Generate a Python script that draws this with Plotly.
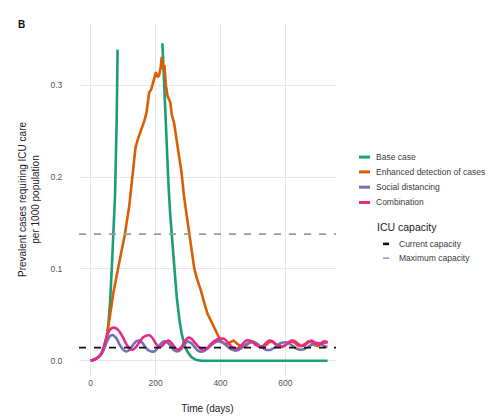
import plotly.graph_objects as go

# ---------------- data ----------------
scenario_names = ["Base case", "Enhanced detection of cases", "Social distancing", "Combination"]
capacity_names = ["Current capacity", "Maximum capacity"]
capacity_values = [0.0142, 0.138]

# Base case: values above the plotted range are missing (None)
base_days = [0, 10, 20, 30, 40, 50, 55, 60, 65, 70, 75, 80, 83,
             150,
             221, 225, 230, 235, 240, 245, 250, 257, 265, 273, 280, 290, 298, 310, 324, 340,
             360, 400, 450, 500, 550, 600, 650, 700, 730]
base_vals = [0.0, 0.001, 0.003, 0.006, 0.012, 0.025, 0.042, 0.065, 0.10, 0.135, 0.18, 0.26, 0.339,
             None,
             0.346, 0.31, 0.26, 0.22, 0.19, 0.16, 0.135, 0.10, 0.07, 0.046, 0.030, 0.016, 0.010, 0.004, 0.001, 0.0,
             0.0, 0.0, 0.0, 0.0, 0.0, 0.0, 0.0, 0.0, 0.0]

enh_days = [0, 10, 20, 30, 40, 50, 60, 70, 83, 95,
            105, 119, 130, 138, 145, 155, 165, 172, 180, 187,
            193, 201, 206, 211, 216, 219, 223, 227, 232, 237,
            245, 250, 257, 265, 273, 280, 288, 295, 304, 312,
            319, 327, 334, 340, 350, 360, 370, 380, 391, 400,
            411, 420, 430, 440, 450, 460, 470, 480, 490, 500,
            510, 520, 530, 540, 550, 560, 570, 580, 590, 600,
            610, 620, 630, 640, 650, 660, 670, 680, 690, 700,
            710, 720, 730]
enh_vals = [0.0, 0.001, 0.003, 0.006, 0.012, 0.028, 0.050, 0.074, 0.098, 0.118,
            0.137, 0.169, 0.205, 0.232, 0.241, 0.250, 0.261, 0.270, 0.292, 0.296,
            0.305, 0.3145, 0.309, 0.311, 0.320, 0.331, 0.318, 0.322, 0.300, 0.288,
            0.282, 0.268, 0.259, 0.240, 0.223, 0.205, 0.178, 0.160, 0.141, 0.118,
            0.101, 0.090, 0.083, 0.076, 0.063, 0.051, 0.044, 0.036, 0.028, 0.022,
            0.019, 0.018, 0.020, 0.022, 0.019, 0.016, 0.015, 0.017, 0.020, 0.021,
            0.019, 0.016, 0.015, 0.017, 0.020, 0.021, 0.018, 0.016, 0.015, 0.017,
            0.020, 0.021, 0.019, 0.016, 0.016, 0.018, 0.021, 0.020, 0.017, 0.016,
            0.018, 0.020, 0.019]

soc_days = [0, 10, 20, 30, 40, 50, 60, 68, 80, 90,
            100, 109, 120, 130, 140, 150, 160, 170, 180, 196,
            205, 215, 225, 232, 245, 255, 268, 280, 290, 298,
            310, 320, 330, 345, 360, 375, 390, 405, 420, 435,
            450, 465, 480, 495, 510, 525, 540, 555, 570, 585,
            600, 615, 630, 645, 660, 675, 690, 705, 720, 730]
soc_vals = [0.0, 0.001, 0.003, 0.006, 0.012, 0.021, 0.027, 0.028, 0.024, 0.017,
            0.012, 0.010, 0.012, 0.017, 0.021, 0.022, 0.019, 0.014, 0.011, 0.010,
            0.013, 0.018, 0.021, 0.021, 0.017, 0.012, 0.010, 0.013, 0.018, 0.021,
            0.019, 0.015, 0.011, 0.010, 0.013, 0.018, 0.021, 0.020, 0.016, 0.012,
            0.011, 0.014, 0.018, 0.020, 0.019, 0.015, 0.012, 0.012, 0.015, 0.019,
            0.020, 0.018, 0.014, 0.012, 0.013, 0.016, 0.019, 0.019, 0.016, 0.015]

comb_days = list(range(0, 731, 10))
comb_vals = [0.000, 0.001, 0.003, 0.006, 0.015, 0.027, 0.034, 0.036, 0.035, 0.031,   # 0-90
             0.025, 0.018, 0.013, 0.012, 0.015, 0.020, 0.025, 0.027, 0.028, 0.025,   # 100-190
             0.019, 0.015, 0.016, 0.020, 0.022, 0.019, 0.014, 0.012, 0.015, 0.021,   # 200-290
             0.025, 0.024, 0.020, 0.016, 0.013, 0.012, 0.014, 0.018, 0.021, 0.023,   # 300-390
             0.024, 0.024, 0.021, 0.017, 0.014, 0.013, 0.015, 0.019, 0.022, 0.022,   # 400-490
             0.020, 0.017, 0.015, 0.016, 0.019, 0.022, 0.021, 0.018, 0.016, 0.015,   # 500-590
             0.017, 0.020, 0.022, 0.021, 0.018, 0.016, 0.017, 0.020, 0.022, 0.020,   # 600-690
             0.018, 0.019, 0.021, 0.020]                                             # 700-730

x_ticks = [0, 200, 400, 600]
y_ticks = [0.0, 0.1, 0.2, 0.3]
y_tick_text = ["0.0", "0.1", "0.2", "0.3"]

# ---------------- styling ----------------
colors = ["#1b9e77", "#d95f02", "#7570b3", "#e7298a"]
cap_colors = ["#111111", "#9a9a9a"]
FONT = "Liberation Sans, Arial, Helvetica, sans-serif"

W, H = 496, 417
ML, MR, MT, MB = 71, 168, 15, 44

fig = go.Figure()
series = [(base_days, base_vals, "linear"), (enh_days, enh_vals, "linear"),
          (soc_days, soc_vals, "spline"), (comb_days, comb_vals, "spline")]
for name, (d, v, shp), c in zip(scenario_names, series, colors):
    fig.add_trace(go.Scatter(x=d, y=v, mode="lines", name=name,
                             line=dict(color=c, width=2.6, shape=shp, smoothing=0.8),
                             connectgaps=False, showlegend=False))

fig.add_hline(y=capacity_values[0], line=dict(color=cap_colors[0], width=1.8, dash="7px,8px"))
fig.add_hline(y=capacity_values[1], line=dict(color=cap_colors[1], width=1.8, dash="7px,8px"))


# ---------------- manual legend (ggplot-style) ----------------
def px_x(p):
    return (p - ML) / (W - ML - MR)


def px_y(p):
    return (H - MB - p) / (H - MT - MB)


LEG_TXT = "#3a3a3a"
rows = [151, 166, 181.5, 197]
for name, c, ry in zip(scenario_names, colors, rows):
    fig.add_shape(type="line", xref="paper", yref="paper",
                  x0=px_x(351), x1=px_x(362), y0=px_y(ry), y1=px_y(ry),
                  line=dict(color=c, width=3))
    fig.add_annotation(text=name, xref="paper", yref="paper", x=px_x(366), y=px_y(ry),
                       xanchor="left", yanchor="middle", showarrow=False,
                       font=dict(family=FONT, size=8.5, color=LEG_TXT))
fig.add_annotation(text="ICU capacity", xref="paper", yref="paper", x=px_x(367), y=px_y(222),
                   xanchor="left", yanchor="middle", showarrow=False,
                   font=dict(family=FONT, size=10.5, color="#222222"))
cap_rows = [239, 253.5]
cap_w = [2.6, 1.5]
for name, c, ry, lw in zip(capacity_names, cap_colors, cap_rows, cap_w):
    fig.add_shape(type="line", xref="paper", yref="paper",
                  x0=px_x(375), x1=px_x(381), y0=px_y(ry), y1=px_y(ry),
                  line=dict(color=c, width=lw))
    fig.add_annotation(text=name, xref="paper", yref="paper", x=px_x(389), y=px_y(ry),
                       xanchor="left", yanchor="middle", showarrow=False,
                       font=dict(family=FONT, size=8.5, color=LEG_TXT))
fig.add_annotation(text="<b>B</b>", xref="paper", yref="paper", x=px_x(8), y=px_y(17),
                   xanchor="left", yanchor="middle", showarrow=False,
                   font=dict(family=FONT, size=10, color="#111111"))

fig.update_layout(
    width=W, height=H,
    margin=dict(l=ML, r=MR, t=MT, b=MB, pad=0),
    paper_bgcolor="white", plot_bgcolor="white",
    font=dict(family=FONT, size=9, color="#333333"),
    showlegend=False,
    xaxis=dict(range=[-36, 756], tickvals=x_ticks, ticktext=[str(t) for t in x_ticks],
               showgrid=True, gridcolor="#e6e6e6", gridwidth=1, zeroline=False, showline=False,
               ticks="", tickfont=dict(family=FONT, size=8.5, color="#555555"),
               title=dict(text="Time (days)", standoff=18,
                          font=dict(family=FONT, size=10, color="#222222"))),
    yaxis=dict(range=[-0.0167, 0.368], tickvals=y_ticks, ticktext=y_tick_text,
               showgrid=True, gridcolor="#e6e6e6", gridwidth=1, zeroline=False, showline=False,
               ticks="outside", ticklen=14, tickcolor="rgba(0,0,0,0)",
               tickfont=dict(family=FONT, size=8.5, color="#555555"),
               title=dict(text="Prevalent cases requiring ICU care<br>per 1000 population", standoff=8,
                          font=dict(family=FONT, size=10, color="#222222"))),
)

fig.write_html("out.html")
